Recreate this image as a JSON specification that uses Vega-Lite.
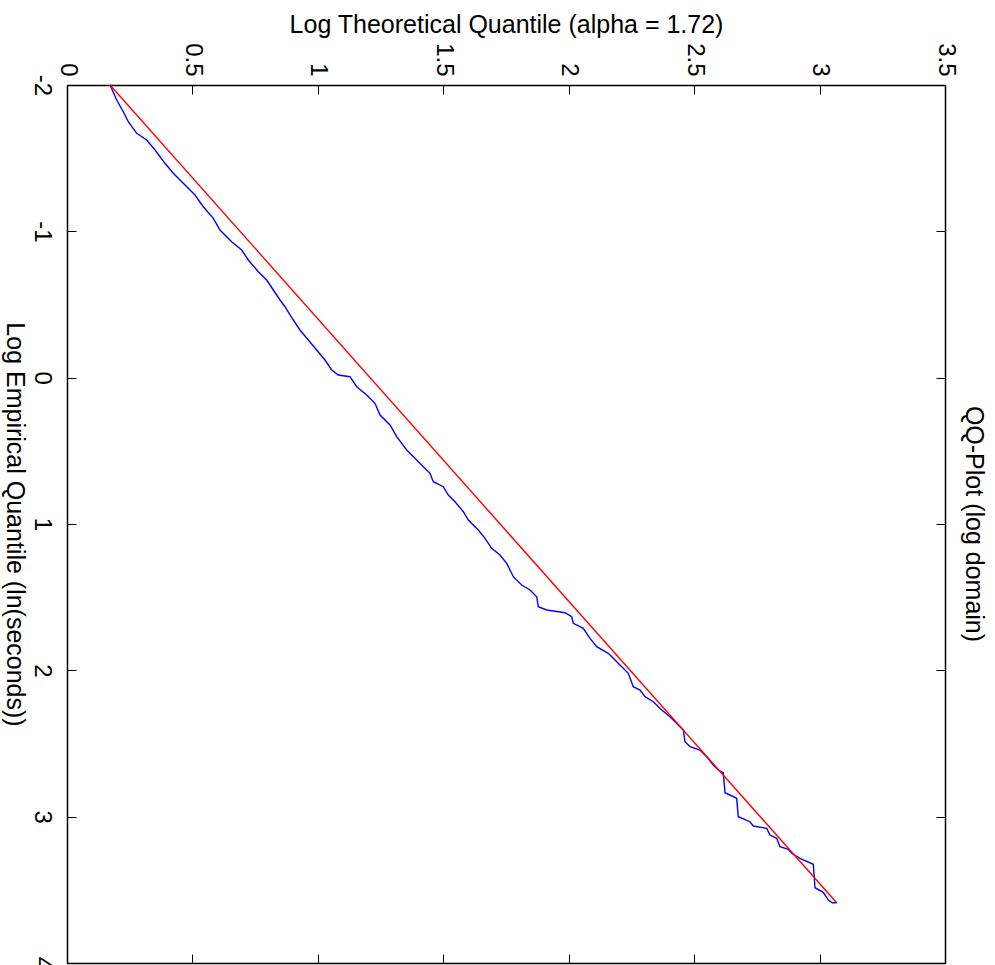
{
  "$schema": "https://vega.github.io/schema/vega-lite/v6.json",
  "width": 878,
  "height": 878,
  "autosize": {"type": "none"},
  "padding": {"left": 67, "top": 85, "right": 50, "bottom": 2},
  "background": "white",
  "config": {
    "font": "Liberation Sans",
    "view": {"stroke": null},
    "axis": {"grid": false, "domainColor": "black", "domainWidth": 1.5, "tickColor": "black", "tickWidth": 1, "labelColor": "black", "titleColor": "black", "labelFont": "Liberation Sans", "titleFont": "Liberation Sans", "labelFontSize": 24, "titleFontSize": 25, "titleFontWeight": "normal"}
  },
  "title": {"text": "QQ-Plot (log domain)", "orient": "right", "anchor": "middle", "fontSize": 25, "fontWeight": "normal", "font": "Liberation Sans", "color": "black", "offset": 4},
  "data": {"values": [
    {"series": "empirical", "theoretical": 0.1714, "empirical": -2.0},
    {"series": "empirical", "theoretical": 0.1981, "empirical": -1.8975},
    {"series": "empirical", "theoretical": 0.2244, "empirical": -1.8175},
    {"series": "empirical", "theoretical": 0.2444, "empirical": -1.7492},
    {"series": "empirical", "theoretical": 0.2778, "empirical": -1.6699},
    {"series": "empirical", "theoretical": 0.3177, "empirical": -1.6241},
    {"series": "empirical", "theoretical": 0.3508, "empirical": -1.5558},
    {"series": "empirical", "theoretical": 0.3907, "empirical": -1.4649},
    {"series": "empirical", "theoretical": 0.4237, "empirical": -1.3966},
    {"series": "empirical", "theoretical": 0.4636, "empirical": -1.3282},
    {"series": "empirical", "theoretical": 0.5102, "empirical": -1.2483},
    {"series": "empirical", "theoretical": 0.5433, "empirical": -1.1683},
    {"series": "empirical", "theoretical": 0.5832, "empirical": -1.089},
    {"series": "empirical", "theoretical": 0.6099, "empirical": -1.0091},
    {"series": "empirical", "theoretical": 0.6565, "empirical": -0.9291},
    {"series": "empirical", "theoretical": 0.6964, "empirical": -0.8724},
    {"series": "empirical", "theoretical": 0.7227, "empirical": -0.8041},
    {"series": "empirical", "theoretical": 0.7626, "empirical": -0.7241},
    {"series": "empirical", "theoretical": 0.7961, "empirical": -0.6674},
    {"series": "empirical", "theoretical": 0.8224, "empirical": -0.5991},
    {"series": "empirical", "theoretical": 0.8491, "empirical": -0.5307},
    {"series": "empirical", "theoretical": 0.869, "empirical": -0.4849},
    {"series": "empirical", "theoretical": 0.9021, "empirical": -0.394},
    {"series": "empirical", "theoretical": 0.9288, "empirical": -0.3257},
    {"series": "empirical", "theoretical": 0.9619, "empirical": -0.2574},
    {"series": "empirical", "theoretical": 0.9954, "empirical": -0.189},
    {"series": "empirical", "theoretical": 1.0285, "empirical": -0.1207},
    {"series": "empirical", "theoretical": 1.0552, "empirical": -0.0523},
    {"series": "empirical", "theoretical": 1.0815, "empirical": -0.0182},
    {"series": "empirical", "theoretical": 1.1281, "empirical": -0.0066},
    {"series": "empirical", "theoretical": 1.1548, "empirical": 0.0618},
    {"series": "empirical", "theoretical": 1.1947, "empirical": 0.1185},
    {"series": "empirical", "theoretical": 1.2278, "empirical": 0.1752},
    {"series": "empirical", "theoretical": 1.2477, "empirical": 0.2552},
    {"series": "empirical", "theoretical": 1.2876, "empirical": 0.3235},
    {"series": "empirical", "theoretical": 1.3143, "empirical": 0.4035},
    {"series": "empirical", "theoretical": 1.3541, "empirical": 0.4944},
    {"series": "empirical", "theoretical": 1.3872, "empirical": 0.5511},
    {"series": "empirical", "theoretical": 1.4203, "empirical": 0.6085},
    {"series": "empirical", "theoretical": 1.447, "empirical": 0.6536},
    {"series": "empirical", "theoretical": 1.4602, "empirical": 0.711},
    {"series": "empirical", "theoretical": 1.5, "empirical": 0.7451},
    {"series": "empirical", "theoretical": 1.52, "empirical": 0.8019},
    {"series": "empirical", "theoretical": 1.5467, "empirical": 0.8477},
    {"series": "empirical", "theoretical": 1.5798, "empirical": 0.916},
    {"series": "empirical", "theoretical": 1.5997, "empirical": 0.9727},
    {"series": "empirical", "theoretical": 1.6396, "empirical": 1.0411},
    {"series": "empirical", "theoretical": 1.6663, "empirical": 1.0978},
    {"series": "empirical", "theoretical": 1.693, "empirical": 1.1661},
    {"series": "empirical", "theoretical": 1.7261, "empirical": 1.2119},
    {"series": "empirical", "theoretical": 1.7528, "empirical": 1.2687},
    {"series": "empirical", "theoretical": 1.7791, "empirical": 1.3602},
    {"series": "empirical", "theoretical": 1.8126, "empirical": 1.4169},
    {"series": "empirical", "theoretical": 1.8457, "empirical": 1.4511},
    {"series": "empirical", "theoretical": 1.8724, "empirical": 1.4969},
    {"series": "empirical", "theoretical": 1.8787, "empirical": 1.5652},
    {"series": "empirical", "theoretical": 1.9122, "empirical": 1.5878},
    {"series": "empirical", "theoretical": 1.9852, "empirical": 1.6062},
    {"series": "empirical", "theoretical": 2.0119, "empirical": 1.6336},
    {"series": "empirical", "theoretical": 2.0183, "empirical": 1.6787},
    {"series": "empirical", "theoretical": 2.0581, "empirical": 1.7128},
    {"series": "empirical", "theoretical": 2.0848, "empirical": 1.7812},
    {"series": "empirical", "theoretical": 2.1115, "empirical": 1.8386},
    {"series": "empirical", "theoretical": 2.1578, "empirical": 1.8837},
    {"series": "empirical", "theoretical": 2.1777, "empirical": 1.9179},
    {"series": "empirical", "theoretical": 2.2044, "empirical": 1.9637},
    {"series": "empirical", "theoretical": 2.2375, "empirical": 2.0204},
    {"series": "empirical", "theoretical": 2.2574, "empirical": 2.112},
    {"series": "empirical", "theoretical": 2.2841, "empirical": 2.1345},
    {"series": "empirical", "theoretical": 2.3041, "empirical": 2.1803},
    {"series": "empirical", "theoretical": 2.3372, "empirical": 2.2145},
    {"series": "empirical", "theoretical": 2.3707, "empirical": 2.2712},
    {"series": "empirical", "theoretical": 2.4037, "empirical": 2.317},
    {"series": "empirical", "theoretical": 2.4436, "empirical": 2.3853},
    {"series": "empirical", "theoretical": 2.4568, "empirical": 2.4078},
    {"series": "empirical", "theoretical": 2.4635, "empirical": 2.4878},
    {"series": "empirical", "theoretical": 2.4835, "empirical": 2.522},
    {"series": "empirical", "theoretical": 2.5233, "empirical": 2.5445},
    {"series": "empirical", "theoretical": 2.55, "empirical": 2.5903},
    {"series": "empirical", "theoretical": 2.5763, "empirical": 2.647},
    {"series": "empirical", "theoretical": 2.5963, "empirical": 2.6812},
    {"series": "empirical", "theoretical": 2.6162, "empirical": 2.6997},
    {"series": "empirical", "theoretical": 2.623, "empirical": 2.8363},
    {"series": "empirical", "theoretical": 2.6696, "empirical": 2.8746},
    {"series": "empirical", "theoretical": 2.676, "empirical": 3.0003},
    {"series": "empirical", "theoretical": 2.7226, "empirical": 3.0345},
    {"series": "empirical", "theoretical": 2.7358, "empirical": 3.0639},
    {"series": "empirical", "theoretical": 2.7892, "empirical": 3.0796},
    {"series": "empirical", "theoretical": 2.8024, "empirical": 3.1254},
    {"series": "empirical", "theoretical": 2.8291, "empirical": 3.148},
    {"series": "empirical", "theoretical": 2.8422, "empirical": 3.2054},
    {"series": "empirical", "theoretical": 2.8753, "empirical": 3.2231},
    {"series": "empirical", "theoretical": 2.8889, "empirical": 3.2505},
    {"series": "empirical", "theoretical": 2.9219, "empirical": 3.2847},
    {"series": "empirical", "theoretical": 2.975, "empirical": 3.3256},
    {"series": "empirical", "theoretical": 2.9817, "empirical": 3.4856},
    {"series": "empirical", "theoretical": 3.0148, "empirical": 3.517},
    {"series": "empirical", "theoretical": 3.0348, "empirical": 3.5696},
    {"series": "empirical", "theoretical": 3.0507, "empirical": 3.588},
    {"series": "empirical", "theoretical": 3.0682, "empirical": 3.5881},
    {"series": "reference", "theoretical": 0.1714, "empirical": -2.0},
    {"series": "reference", "theoretical": 3.0682, "empirical": 3.588}
  ]},
  "layer": [
    {
      "transform": [{"filter": "datum.series === 'empirical'"}],
      "mark": {"type": "line", "color": "#0000ff", "strokeWidth": 1.4, "clip": true},
      "encoding": {
        "x": {"field": "theoretical", "type": "quantitative",
          "scale": {"domain": [0, 3.5], "nice": false, "zero": false},
          "axis": {"orient": "top", "values": [0, 0.5, 1, 1.5, 2, 2.5, 3, 3.5], "labelExpr": "'' + datum.value", "labelAngle": 90, "tickSize": -9, "labelPadding": 18, "title": "Log Theoretical Quantile (alpha = 1.72)", "titleBaseline": "alphabetic", "titleY": -53, "titleX": 439, "titleAnchor": "middle"}},
        "y": {"field": "empirical", "type": "quantitative",
          "scale": {"domain": [-2, 4], "reverse": true, "nice": false, "zero": false},
          "axis": {"orient": "left", "values": [-2, -1, 0, 1, 2, 3, 4], "labelExpr": "'' + datum.value", "labelAngle": 90, "tickSize": -9, "labelPadding": 23, "title": "Log Empirical Quantile (ln(seconds))", "titleAngle": 90, "titleBaseline": "alphabetic", "titleAlign": "center", "titleX": -61, "titleY": 439}}
      }
    },
    {
      "transform": [{"filter": "datum.series === 'reference'"}],
      "mark": {"type": "line", "color": "#ff0000", "strokeWidth": 1.4},
      "encoding": {
        "x": {"field": "theoretical", "type": "quantitative",
          "axis": {"orient": "bottom", "values": [0, 0.5, 1, 1.5, 2, 2.5, 3, 3.5], "labels": false, "tickSize": -9, "title": null}},
        "y": {"field": "empirical", "type": "quantitative",
          "axis": {"orient": "right", "values": [-2, -1, 0, 1, 2, 3, 4], "labels": false, "tickSize": -9, "title": null}}
      }
    }
  ],
  "resolve": {"axis": {"x": "independent", "y": "independent"}}
}
